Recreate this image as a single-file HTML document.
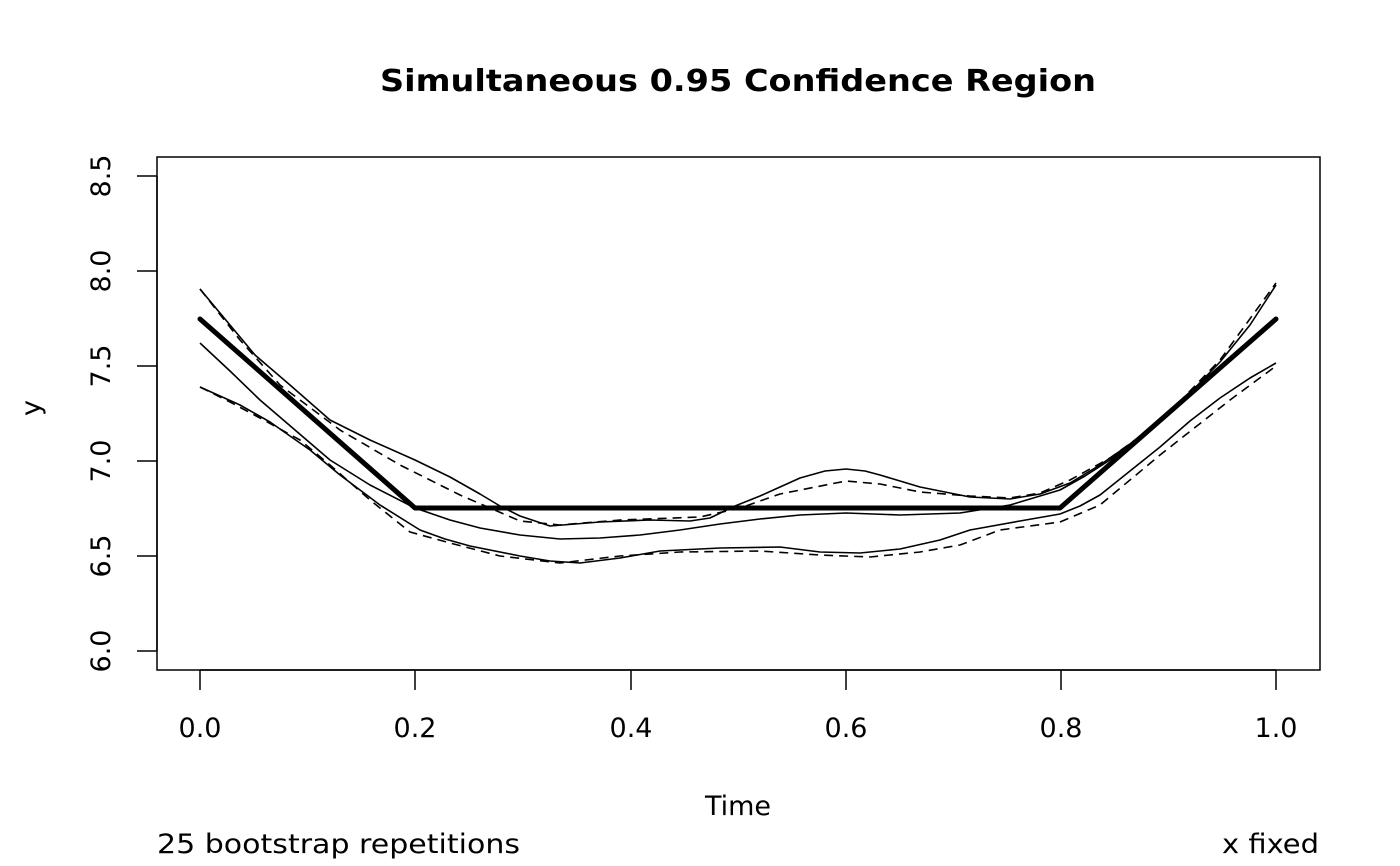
<!DOCTYPE html>
<html><head><meta charset="utf-8"><style>
html,body{margin:0;padding:0;background:#fff;}
svg{display:block;font-family:"DejaVu Sans",sans-serif;}
</style></head><body>
<svg width="1400" height="866" viewBox="0 0 1400 866" xmlns="http://www.w3.org/2000/svg">
<rect width="1400" height="866" fill="#fff"/>
<text x="380" y="91" font-size="30" font-weight="bold" textLength="716" lengthAdjust="spacingAndGlyphs">Simultaneous 0.95 Confidence Region</text>
<rect x="157" y="157" width="1163" height="513" fill="none" stroke="#000" stroke-width="1.5"/>
<g stroke="#000" stroke-width="1.5">
<line x1="200" y1="670" x2="1276" y2="670"/>
<line x1="200" y1="670" x2="200" y2="690"/><line x1="415" y1="670" x2="415" y2="690"/>
<line x1="631" y1="670" x2="631" y2="690"/><line x1="846" y1="670" x2="846" y2="690"/>
<line x1="1061" y1="670" x2="1061" y2="690"/><line x1="1276" y1="670" x2="1276" y2="690"/>
<line x1="157" y1="176" x2="157" y2="651"/>
<line x1="137" y1="651" x2="157" y2="651"/><line x1="137" y1="556" x2="157" y2="556"/>
<line x1="137" y1="461" x2="157" y2="461"/><line x1="137" y1="366" x2="157" y2="366"/>
<line x1="137" y1="271" x2="157" y2="271"/><line x1="137" y1="176" x2="157" y2="176"/>
</g>
<g font-size="27" text-anchor="middle">
<text x="200" y="737">0.0</text><text x="415" y="737">0.2</text><text x="631" y="737">0.4</text>
<text x="846" y="737">0.6</text><text x="1061" y="737">0.8</text><text x="1276" y="737">1.0</text>
<text transform="translate(110,651) rotate(-90)">6.0</text>
<text transform="translate(110,556) rotate(-90)">6.5</text>
<text transform="translate(110,461) rotate(-90)">7.0</text>
<text transform="translate(110,366) rotate(-90)">7.5</text>
<text transform="translate(110,271) rotate(-90)">8.0</text>
<text transform="translate(110,176) rotate(-90)">8.5</text>
<text x="738" y="815">Time</text>
<text transform="translate(40,408) rotate(-90)">y</text>
</g>
<g font-size="27">
<text x="157" y="853" textLength="363" lengthAdjust="spacingAndGlyphs">25 bootstrap repetitions</text>
<text x="1222" y="853" textLength="97" lengthAdjust="spacingAndGlyphs">x fixed</text>
</g>
<g fill="none" stroke="#000" stroke-width="1.6" stroke-linejoin="round">
<polyline points="200,343 230,371 260,400 295,430 330,460 370,485 415,508 450,520 480,528 520,535 560,539 600,538 640,535 680,530 720,524 760,519 800,515 846,513 900,515 960,513 1010,505 1040,496 1060,490 1085,476 1110,460 1140,436 1170,410 1200,385 1230,360 1255,338 1276,320"/>
<polyline points="200,289 215,307 230,325 255,355 290,385 330,420 370,440 415,460 450,477 480,494 500,506 520,516 550,526 575,524 600,522 650,520 690,521 710,518 735,506 760,496 800,478 825,471 846,469 865,471 880,475 920,487 970,497 1010,499 1040,494 1070,483 1100,465 1130,444 1160,422 1190,393 1220,362 1250,325 1276,285"/>
<polyline points="200,387 240,405 270,422 310,450 340,475 380,505 420,530 445,539 470,546 520,556 550,561 580,563 620,558 660,551 720,548 780,547 820,552 860,553 900,549 940,540 970,530 1020,521 1060,514 1080,506 1100,495 1130,471 1160,447 1190,421 1220,398 1250,378 1276,363"/>
</g>
<g fill="none" stroke="#000" stroke-width="1.6" stroke-dasharray="9,6" stroke-linejoin="round">
<polyline points="200,289 240,340 280,385 340,430 400,465 460,495 520,521 560,525 620,520 700,517 740,508 780,494 846,481 880,484 920,492 970,496 1010,498 1040,493 1070,480 1110,458 1160,422 1220,360 1276,283"/>
<polyline points="200,387 230,402 260,418 300,440 330,465 370,500 410,532 450,543 500,556 560,563 620,556 680,552 760,551 820,555 870,557 920,552 960,545 1000,530 1060,522 1100,505 1160,455 1230,400 1276,366"/>
</g>
<polyline points="200,319 415,508 1060,508 1276,319" fill="none" stroke="#000" stroke-width="5" stroke-linejoin="round" stroke-linecap="round"/>
</svg>
</body></html>
